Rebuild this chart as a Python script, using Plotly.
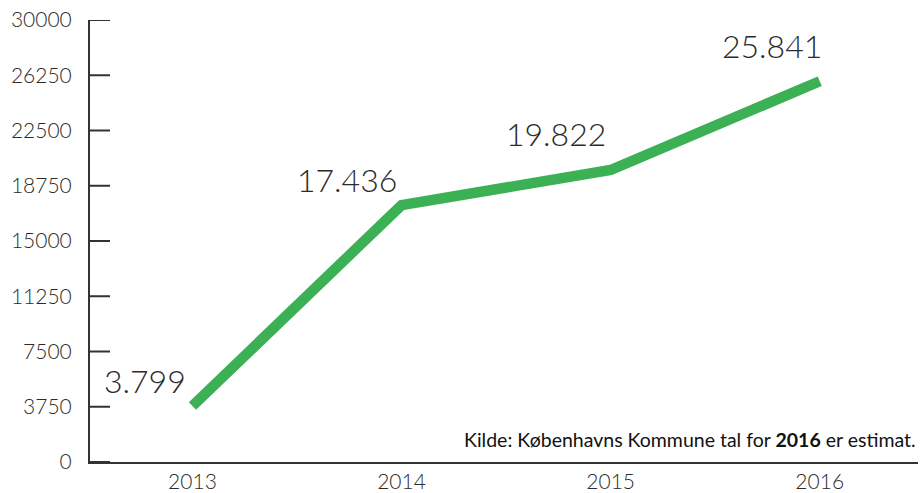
import plotly.graph_objects as go

years = ["2013", "2014", "2015", "2016"]
values = [3799, 17436, 19822, 25841]
value_labels = ["3.799", "17.436", "19.822", "25.841"]
y_ticks = [0, 3750, 7500, 11250, 15000, 18750, 22500, 26250, 30000]
source = "Kilde: Københavns Kommune tal for <b>2016</b> er estimat."

FONT = "Lato"
TXT = "#2b2b2b"
PLOT_W = 923 - 90 - 5
TICK_LEN = 20

fig = go.Figure()
fig.add_trace(go.Scatter(
    x=list(range(len(years))), y=values, mode="lines",
    line=dict(color="#3bb055", width=10.5),
    hoverinfo="skip",
))

shifts = [(-47, 26), (-55, 26), (-55, 36), (-48, 36)]
for i, (v, lab, (dx, dy)) in enumerate(zip(values, value_labels, shifts)):
    fig.add_annotation(x=i, y=v, text=lab, showarrow=False,
                       xshift=dx, yshift=dy,
                       font=dict(family=FONT, size=32, color=TXT, weight=300))

fig.add_annotation(xref="paper", yref="paper", x=1.0, y=0.05,
                   xanchor="right", yanchor="middle", text=source,
                   showarrow=False,
                   font=dict(family=FONT, size=19.5, color="#111"))

# inside tick marks on the y axis, placed through the y scale
for t in y_ticks:
    fig.add_shape(type="line", xref="x domain", yref="y",
                  x0=0, x1=TICK_LEN / PLOT_W, y0=t, y1=t,
                  line=dict(color="#333333", width=2), layer="above")

fig.update_layout(
    width=923, height=493,
    margin=dict(l=90, r=5, t=20, b=31),
    paper_bgcolor="white", plot_bgcolor="white",
    showlegend=False,
    xaxis=dict(range=[-0.49, 3.47], automargin=False,
               tickvals=list(range(len(years))), ticktext=years,
               showline=True, linecolor="#333", linewidth=2,
               showgrid=False, zeroline=False, ticks="",
               tickfont=dict(family=FONT, size=21, color=TXT, weight=300)),
    yaxis=dict(range=[0, 30000], tickvals=y_ticks, automargin=False,
               ticktext=[str(t) for t in y_ticks],
               showline=True, linecolor="#333", linewidth=2,
               showgrid=False, zeroline=False, ticks="",
               tickfont=dict(family=FONT, size=21, color=TXT, weight=300),
               ticklabelstandoff=12),
)

fig.write_html("out.html")
